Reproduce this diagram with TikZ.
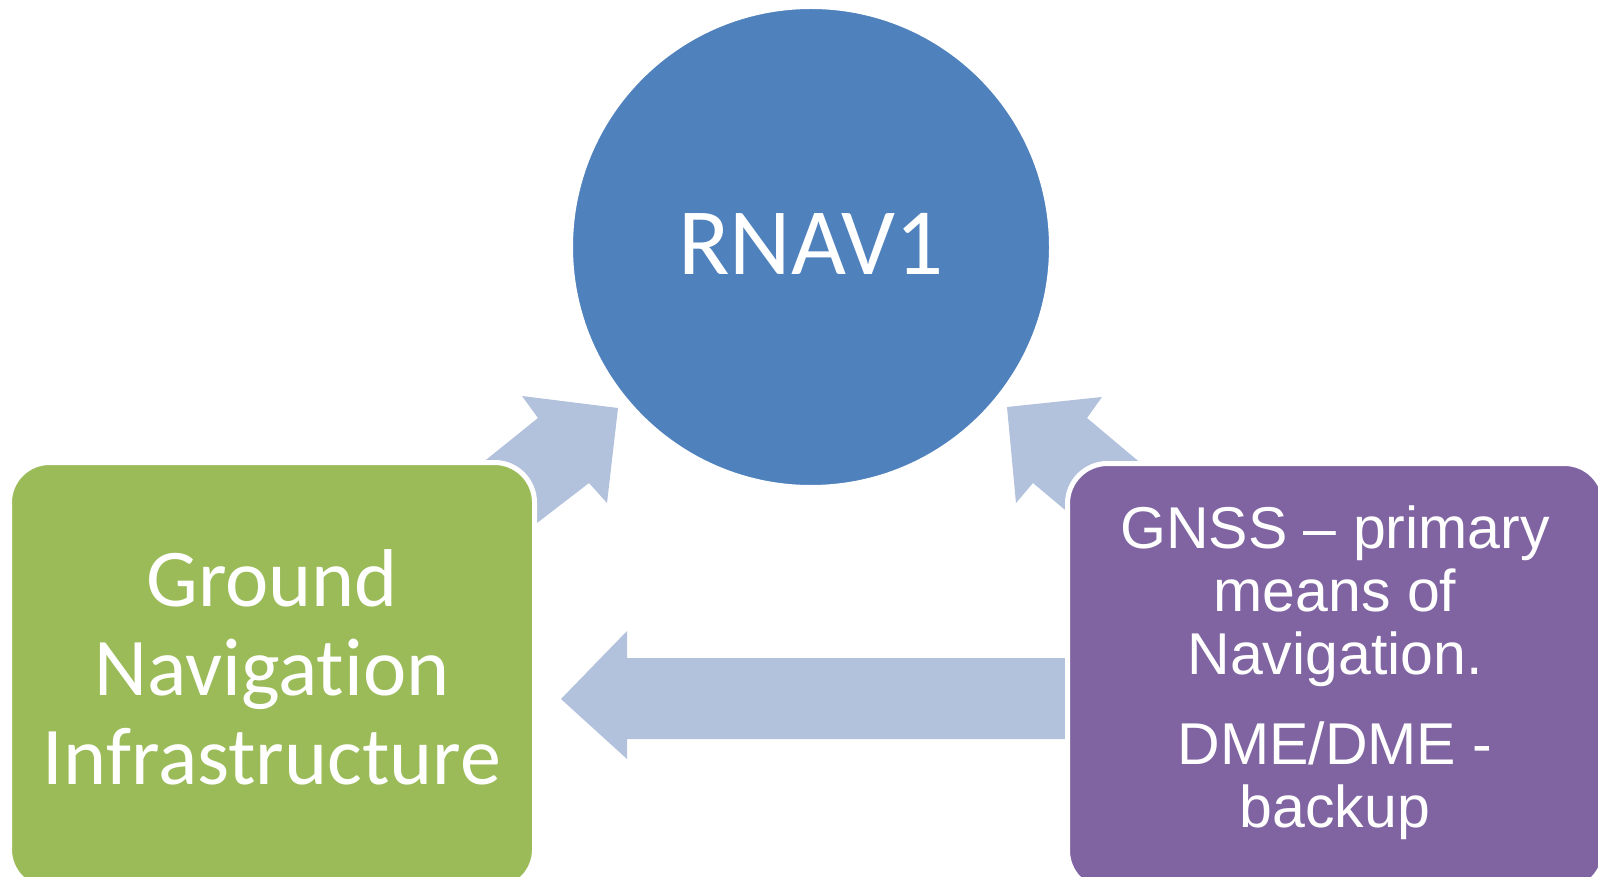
\documentclass[tikz,border=0pt]{standalone}
\usepackage{fontspec}
\newfontfamily\calibri[Ligatures={NoCommon}]{Carlito}
\newfontfamily\arial{Liberation Sans}
\definecolor{cblue}{HTML}{4F81BD}
\definecolor{cgreen}{HTML}{9BBB59}
\definecolor{cpurple}{HTML}{8064A2}
\definecolor{carrow}{HTML}{B2C1DC}
\begin{document}
\begin{tikzpicture}[x=1pt,y=-1pt,
  shapebox/.style={draw=white,line width=5pt,rounded corners=40pt,inner sep=0pt},
  boxtext/.style={text=white,align=center,inner sep=0pt},
  blockarrow/.style={fill=carrow}]
\useasboundingbox (0,0) rectangle (1598,877);
\fill[white] (0,0) rectangle (1598,877);
% block arrows
\fill[blockarrow] (522,396) -- (618,408) -- (607,503) -- (589,483) -- (511,543) -- (461,480) -- (538,418) -- cycle;
\fill[blockarrow] (1007,407) -- (1102,397) -- (1087,418) -- (1162,481) -- (1108,546) -- (1033,483) -- (1016,503) -- cycle;
\fill[blockarrow] (561,699) -- (627,631) -- (627,658) -- (1100,658) -- (1100,739) -- (627,739) -- (627,759) -- cycle;
% nodes
\node[circle,fill=cblue,draw=white,line width=3pt,minimum size=479pt,inner sep=0pt] (rnav) at (811,247) {};
\node[boxtext,font=\calibri\fontsize{95}{100}\selectfont] (rnavtext) at (811,244) {RNAV1};
\node[shapebox,fill=cgreen,minimum width=525pt,minimum height=427pt] (ground) at (272,676) {};
\node[boxtext,font=\calibri\fontsize{82}{89}\selectfont] (groundtext) at (272,667)
  {Ground\\Navigation\\Infrastructure};
\node[shapebox,fill=cpurple,minimum width=537pt,minimum height=427pt] (gnss) at (1336,677) {};
\node[boxtext,font=\arial\fontsize{59}{63}\selectfont] (gnsstext) at (1335,672.5)
  {GNSS – primary\\means of\\Navigation.\\[27pt]DME/DME -\\backup};
\end{tikzpicture}
\end{document}
